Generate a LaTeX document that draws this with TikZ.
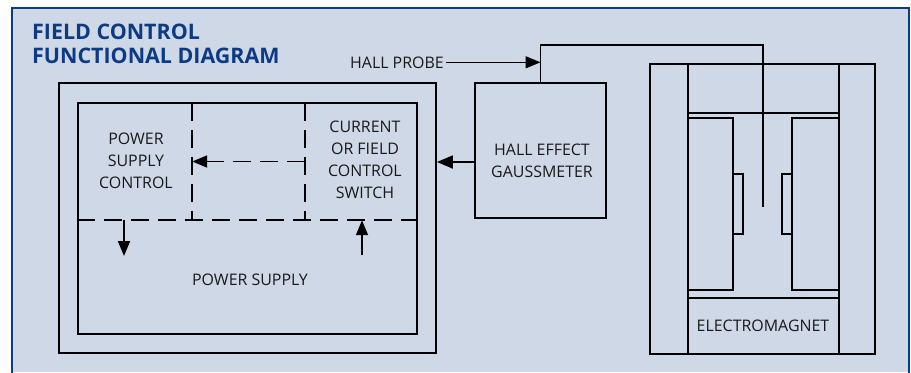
\documentclass[tikz,border=0pt]{standalone}
\usepackage{fontspec}
\setmainfont{Open Sans}
\usetikzlibrary{arrows.meta}
\definecolor{bgfill}{RGB}{207,216,230}
\definecolor{navy}{RGB}{12,58,132}
\tikzset{
  box/.style={draw=black, line width=1.8bp, rectangle, inner sep=0pt},
  region/.style={draw=none, rectangle, inner sep=0pt},
  lbl/.style={font=\fontsize{16}{22}\selectfont, align=center, inner sep=0pt, text=black!90},
  ttl/.style={font=\fontsize{21.5}{24}\selectfont\bfseries, text=navy, inner sep=0pt, anchor=base west},
  dsh/.style={line width=1.8bp, dash pattern=on 18bp off 9bp},
  ln/.style={line width=1.8bp},
  thinln/.style={line width=1.4bp},
  tip/.style={-{Triangle[length=15bp,width=12bp]}},
}
\begin{document}
\begin{tikzpicture}[x=1bp,y=-1bp]
\useasboundingbox (0,0) rectangle (911,372);
\fill[white] (0,0) rectangle (911,372);
\fill[bgfill] (12,8) rectangle (909,372);
\draw[navy, line width=2.5bp] (12,373) -- (12,8) -- (909,8) -- (909,373);

% title
\node[ttl] (t1) at (32,39) {FIELD CONTROL};
\node[ttl] (t2) at (32,63) {FUNCTIONAL DIAGRAM};

% power supply
\node[box, minimum width=377bp, minimum height=270bp] (psout) at (247.5,218) {};
\node[box, minimum width=339bp, minimum height=231bp] (psin) at (247.5,218.5) {};
\node[region, minimum width=114bp, minimum height=117bp] (psc) at (135,161.5) {};
\node[region, minimum width=112bp, minimum height=117bp] (cfs) at (361,161.5) {};
\node[lbl] (psctext) at (136,161) {POWER\\SUPPLY\\CONTROL};
\node[lbl] (cfstext) at (365,160) {CURRENT\\OR FIELD\\CONTROL\\SWITCH};
\node[lbl] (pstext) at (250,280) {POWER SUPPLY};

\draw[dsh] (psin.west |- 0,220) -- (psin.east |- 0,220);
\draw[dsh] (psc.north east) -- (psc.south east);
\draw[dsh] (cfs.north west) -- (cfs.south west);
\draw[dsh, tip] (cfs.west) -- (psc.east);
\draw[ln, tip] (psc.south -| 124,0) -- (124,256);
\draw[ln, tip] (362,255) -- (cfs.south -| 362,0);

% gaussmeter
\node[box, minimum width=131bp, minimum height=135bp] (gm) at (540.5,150.5) {};
\node[lbl] (gmtext) at (542,161) {HALL EFFECT\\GAUSSMETER};
\draw[ln, -{Triangle[length=16bp,width=13bp]}] (gm.west |- 0,162) -- (psout.east |- 0,162);

% hall probe
\node[lbl, anchor=base east, inner sep=2bp] (hp) at (446,68) {HALL PROBE};
\coordinate (probetip) at (763,207);
\draw[thinln, -{Triangle[length=15bp,width=12bp]}] (hp.east) -- (gm.north |- hp.east);
\draw[thinln] (gm.north) |- (probetip |- 0,45) -- (probetip);

% electromagnet
\node[box, minimum width=225bp, minimum height=290bp] (em) at (762.5,209) {};
\node[box, minimum width=151bp, minimum height=290bp] (core) at (763.5,209) {};
\draw[ln] (688,113) -- (839,113);
\draw[ln] (688,118) rectangle (733,290);
\draw[ln] (733,174) rectangle (743,234);
\draw[ln] (792,118) rectangle (839,290);
\draw[ln] (782,174) rectangle (792,234);
\draw[ln] (688,298) -- (839,298);
\node[lbl] (emtext) at (763,326) {ELECTROMAGNET};
\end{tikzpicture}
\end{document}
